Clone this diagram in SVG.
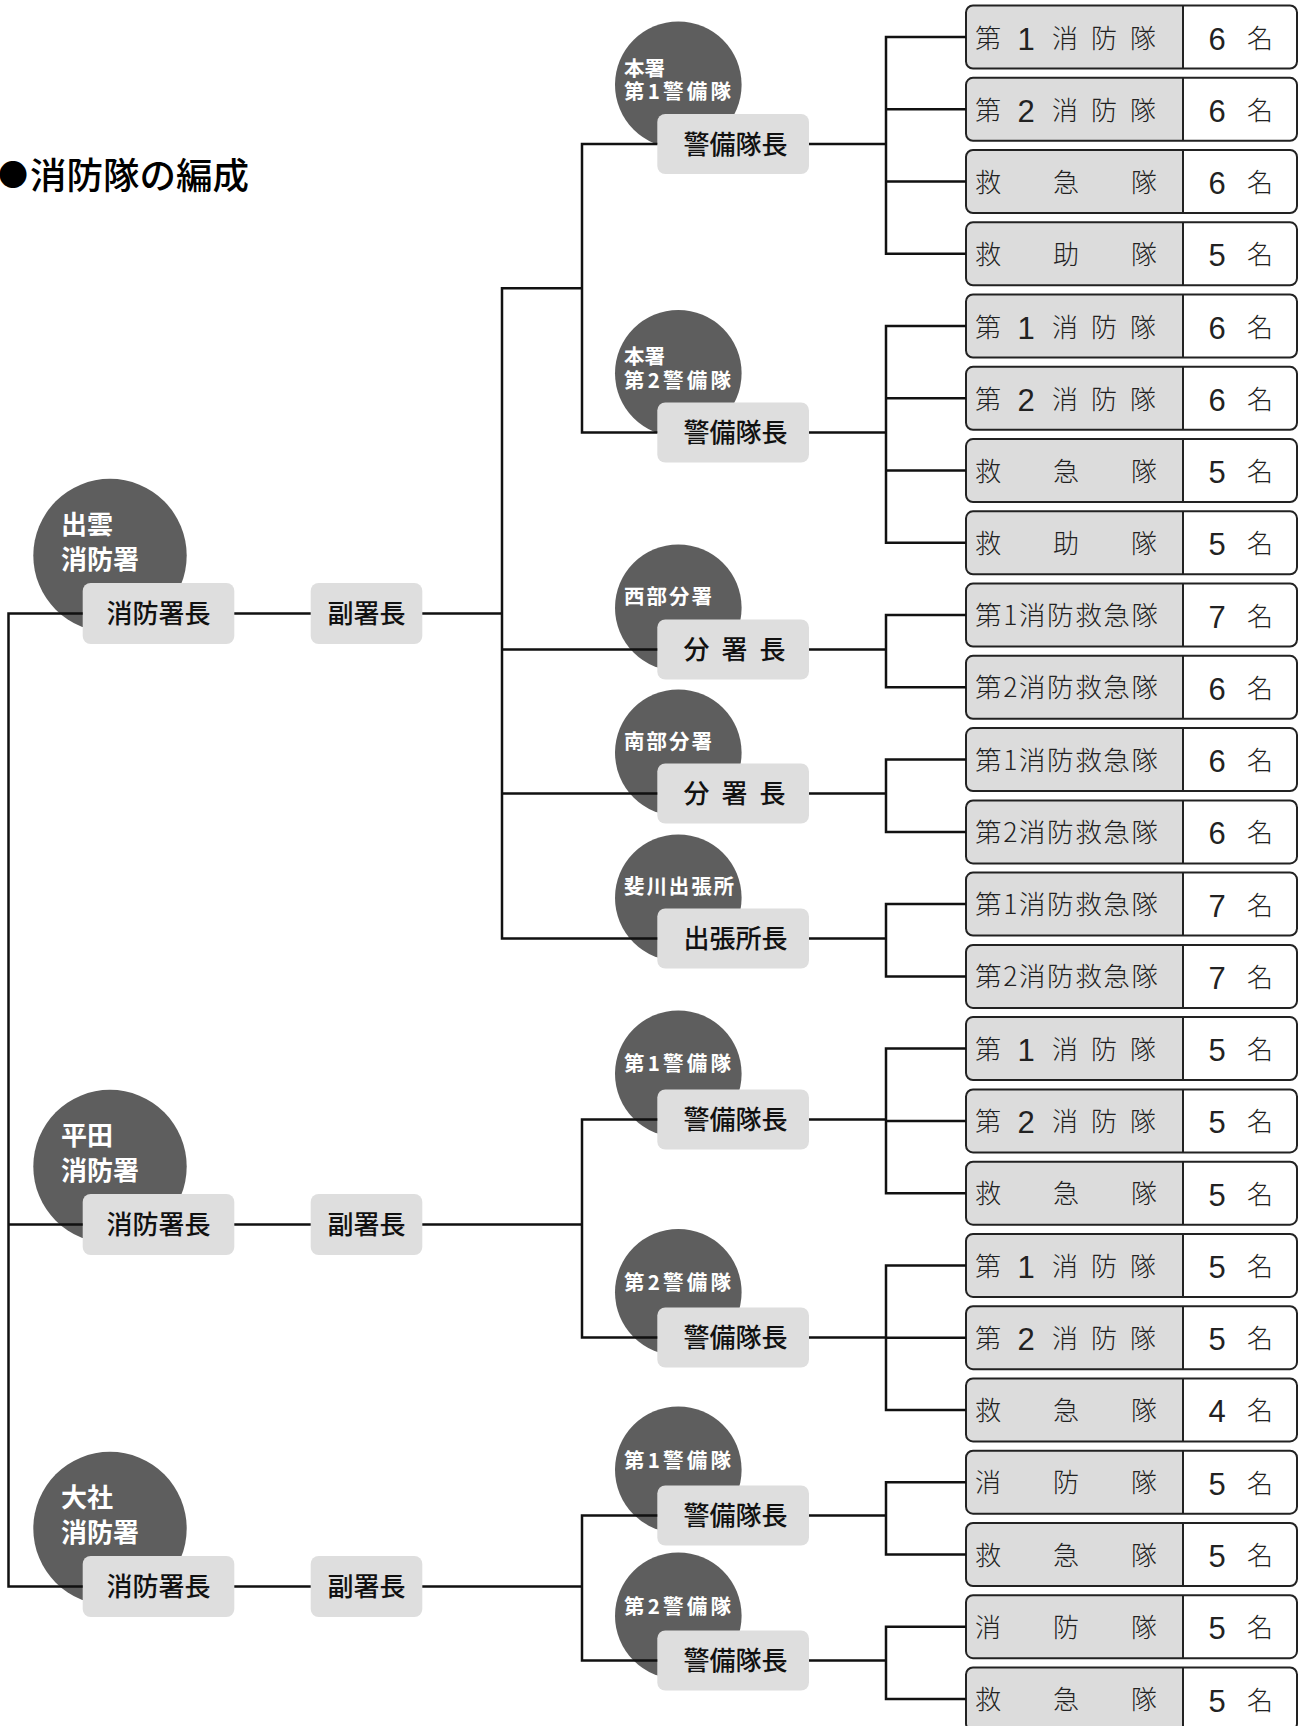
<svg xmlns="http://www.w3.org/2000/svg" xmlns:xlink="http://www.w3.org/1999/xlink" width="1304" height="1726" viewBox="0 0 1304 1726">
<style>
text { font-family: "Noto Sans CJK JP", "Noto Sans CJK SC", sans-serif; }
.ln { fill: none; stroke: #111; stroke-width: 2.5; stroke-linejoin: miter; }
.circ { fill: #5e5e5e; }
.bx { fill: #dedede; }
.wl { fill: #fff; font-weight: 700; font-size: 26px; dominant-baseline: central; }
.ws { fill: #fff; font-weight: 700; font-size: 20.5px; dominant-baseline: central; }
.tb { fill: #111; font-weight: 500; font-size: 26px; text-anchor: middle; dominant-baseline: central; }
.tr { fill: #222; font-weight: 300; font-size: 26px; text-anchor: middle; dominant-baseline: central; }
.dg { font-family: "Liberation Sans", Arial, sans-serif; font-size: 31px; font-weight: 400; baseline-shift: -3px; }
.tp { fill: #222; font-weight: 300; font-size: 26.5px; dominant-baseline: central; }
.title { fill: #000; font-weight: 500; font-size: 36.5px; dominant-baseline: central; }
.bul { font-size: 30px; }
</style>
<defs>
<g id="cell">
<rect x="0" y="0" width="331" height="63" rx="7" fill="#fff"/>
<path d="M217 0 H7 A7 7 0 0 0 0 7 V56 A7 7 0 0 0 7 63 H217 Z" fill="#dcdcdc"/>
<rect x="0" y="0" width="331" height="63" rx="7" fill="none" stroke="#222" stroke-width="2"/>
<line x1="217" y1="0" x2="217" y2="63" stroke="#222" stroke-width="2"/>
</g>
</defs>
<rect x="0" y="0" width="1304" height="1726" fill="#fff"/>

<g id="title"><text class="title" y="173"><tspan class="bul" x="-2">●</tspan><tspan x="30">消防隊の編成</tspan></text></g>

<!-- level 1 nodes -->
<g id="izumo">
<circle class="circ" cx="110" cy="555.5" r="76.7"/>
<text class="wl" x="61" y="522.5">出雲</text>
<text class="wl" x="61" y="557">消防署</text>
<rect class="bx" x="82.7" y="583" width="151.6" height="61" rx="8"/>
<text class="tb" x="158.5" y="611.5">消防署長</text>
</g>
<g id="izumo-sub"><rect class="bx" x="310.7" y="583" width="111.6" height="61" rx="8"/><text class="tb" x="366.5" y="611.5">副署長</text></g>

<g id="hirata">
<circle class="circ" cx="110" cy="1166.5" r="76.7"/>
<text class="wl" x="61" y="1133.5">平田</text>
<text class="wl" x="61" y="1168">消防署</text>
<rect class="bx" x="82.7" y="1194" width="151.6" height="61" rx="8"/>
<text class="tb" x="158.5" y="1222.5">消防署長</text>
</g>
<g id="hirata-sub"><rect class="bx" x="310.7" y="1194" width="111.6" height="61" rx="8"/><text class="tb" x="366.5" y="1222.5">副署長</text></g>

<g id="taisha">
<circle class="circ" cx="110" cy="1528.5" r="76.7"/>
<text class="wl" x="61" y="1495.5">大社</text>
<text class="wl" x="61" y="1530">消防署</text>
<rect class="bx" x="82.7" y="1556" width="151.6" height="61" rx="8"/>
<text class="tb" x="158.5" y="1584.5">消防署長</text>
</g>
<g id="taisha-sub"><rect class="bx" x="310.7" y="1556" width="111.6" height="61" rx="8"/><text class="tb" x="366.5" y="1584.5">副署長</text></g>

<!-- level 2 nodes -->
<g id="l2-1">
<circle class="circ" cx="678.3" cy="84.7" r="63.3"/>
<text class="ws" x="624" y="66.5">本署</text>
<text class="ws" x="624" y="90" textLength="107">第1警備隊</text>
<rect class="bx" x="657.3" y="114" width="151.7" height="60" rx="8"/>
<text class="tb" x="735.5" y="142">警備隊長</text>
</g>
<g id="l2-2">
<circle class="circ" cx="678.3" cy="373.2" r="63.3"/>
<text class="ws" x="624" y="355">本署</text>
<text class="ws" x="624" y="378.5" textLength="107">第2警備隊</text>
<rect class="bx" x="657.3" y="402.5" width="151.7" height="60" rx="8"/>
<text class="tb" x="735.5" y="430.5">警備隊長</text>
</g>
<g id="l2-3">
<circle class="circ" cx="678.3" cy="607.8" r="63.3"/>
<text class="ws" x="624" y="595" textLength="88">西部分署</text>
<rect class="bx" x="657.3" y="619.5" width="151.7" height="60" rx="8"/>
<text class="tb" x="696.5 734.5 772.5" y="647.5">分署長</text>
</g>
<g id="l2-4">
<circle class="circ" cx="678.3" cy="752.8" r="63.3"/>
<text class="ws" x="624" y="740" textLength="88">南部分署</text>
<rect class="bx" x="657.3" y="763.5" width="151.7" height="60" rx="8"/>
<text class="tb" x="696.5 734.5 772.5" y="791.5">分署長</text>
</g>
<g id="l2-5">
<circle class="circ" cx="678.3" cy="897.8" r="63.3"/>
<text class="ws" x="624" y="885" textLength="110">斐川出張所</text>
<rect class="bx" x="657.3" y="908.5" width="151.7" height="60" rx="8"/>
<text class="tb" x="735.5" y="936.5">出張所長</text>
</g>
<g id="l2-6">
<circle class="circ" cx="678.3" cy="1073.8" r="63.3"/>
<text class="ws" x="624" y="1062" textLength="107">第1警備隊</text>
<rect class="bx" x="657.3" y="1089.5" width="151.7" height="60" rx="8"/>
<text class="tb" x="735.5" y="1117.5">警備隊長</text>
</g>
<g id="l2-7">
<circle class="circ" cx="678.3" cy="1292.3" r="63.3"/>
<text class="ws" x="624" y="1281" textLength="107">第2警備隊</text>
<rect class="bx" x="657.3" y="1307.5" width="151.7" height="60" rx="8"/>
<text class="tb" x="735.5" y="1335.5">警備隊長</text>
</g>
<g id="l2-8">
<circle class="circ" cx="678.3" cy="1469.8" r="63.3"/>
<text class="ws" x="624" y="1459" textLength="107">第1警備隊</text>
<rect class="bx" x="657.3" y="1485.5" width="151.7" height="60" rx="8"/>
<text class="tb" x="735.5" y="1513.5">警備隊長</text>
</g>
<g id="l2-9">
<circle class="circ" cx="678.3" cy="1615.8" r="63.3"/>
<text class="ws" x="624" y="1605" textLength="107">第2警備隊</text>
<rect class="bx" x="657.3" y="1630.5" width="151.7" height="60" rx="8"/>
<text class="tb" x="735.5" y="1658.5">警備隊長</text>
</g>

<!-- unit rows -->
<g id="r0"><use xlink:href="#cell" href="#cell" x="966" y="5.5"/><text class="tr" y="35.5"><tspan x="988">第</tspan><tspan class="dg" x="1026">1</tspan><tspan x="1065 1104 1143">消防隊</tspan></text><text class="tr" y="35.5"><tspan class="dg" x="1217">6</tspan><tspan x="1260">名</tspan></text></g>
<g id="r1"><use xlink:href="#cell" href="#cell" x="966" y="77.8"/><text class="tr" y="107.8"><tspan x="988">第</tspan><tspan class="dg" x="1026">2</tspan><tspan x="1065 1104 1143">消防隊</tspan></text><text class="tr" y="107.8"><tspan class="dg" x="1217">6</tspan><tspan x="1260">名</tspan></text></g>
<g id="r2"><use xlink:href="#cell" href="#cell" x="966" y="150"/><text class="tr" x="988 1066 1144" y="180">救急隊</text><text class="tr" y="180"><tspan class="dg" x="1217">6</tspan><tspan x="1260">名</tspan></text></g>
<g id="r3"><use xlink:href="#cell" href="#cell" x="966" y="222.3"/><text class="tr" x="988 1066 1144" y="252.3">救助隊</text><text class="tr" y="252.3"><tspan class="dg" x="1217">5</tspan><tspan x="1260">名</tspan></text></g>
<g id="r4"><use xlink:href="#cell" href="#cell" x="966" y="294.5"/><text class="tr" y="324.5"><tspan x="988">第</tspan><tspan class="dg" x="1026">1</tspan><tspan x="1065 1104 1143">消防隊</tspan></text><text class="tr" y="324.5"><tspan class="dg" x="1217">6</tspan><tspan x="1260">名</tspan></text></g>
<g id="r5"><use xlink:href="#cell" href="#cell" x="966" y="366.8"/><text class="tr" y="396.8"><tspan x="988">第</tspan><tspan class="dg" x="1026">2</tspan><tspan x="1065 1104 1143">消防隊</tspan></text><text class="tr" y="396.8"><tspan class="dg" x="1217">6</tspan><tspan x="1260">名</tspan></text></g>
<g id="r6"><use xlink:href="#cell" href="#cell" x="966" y="439.1"/><text class="tr" x="988 1066 1144" y="469.1">救急隊</text><text class="tr" y="469.1"><tspan class="dg" x="1217">5</tspan><tspan x="1260">名</tspan></text></g>
<g id="r7"><use xlink:href="#cell" href="#cell" x="966" y="511.3"/><text class="tr" x="988 1066 1144" y="541.3">救助隊</text><text class="tr" y="541.3"><tspan class="dg" x="1217">5</tspan><tspan x="1260">名</tspan></text></g>
<g id="r8"><use xlink:href="#cell" href="#cell" x="966" y="583.6"/><text class="tp" x="975" y="613.6" textLength="183">第1消防救急隊</text><text class="tr" y="613.6"><tspan class="dg" x="1217">7</tspan><tspan x="1260">名</tspan></text></g>
<g id="r9"><use xlink:href="#cell" href="#cell" x="966" y="655.8"/><text class="tp" x="975" y="685.8" textLength="183">第2消防救急隊</text><text class="tr" y="685.8"><tspan class="dg" x="1217">6</tspan><tspan x="1260">名</tspan></text></g>
<g id="r10"><use xlink:href="#cell" href="#cell" x="966" y="728.1"/><text class="tp" x="975" y="758.1" textLength="183">第1消防救急隊</text><text class="tr" y="758.1"><tspan class="dg" x="1217">6</tspan><tspan x="1260">名</tspan></text></g>
<g id="r11"><use xlink:href="#cell" href="#cell" x="966" y="800.4"/><text class="tp" x="975" y="830.4" textLength="183">第2消防救急隊</text><text class="tr" y="830.4"><tspan class="dg" x="1217">6</tspan><tspan x="1260">名</tspan></text></g>
<g id="r12"><use xlink:href="#cell" href="#cell" x="966" y="872.6"/><text class="tp" x="975" y="902.6" textLength="183">第1消防救急隊</text><text class="tr" y="902.6"><tspan class="dg" x="1217">7</tspan><tspan x="1260">名</tspan></text></g>
<g id="r13"><use xlink:href="#cell" href="#cell" x="966" y="944.9"/><text class="tp" x="975" y="974.9" textLength="183">第2消防救急隊</text><text class="tr" y="974.9"><tspan class="dg" x="1217">7</tspan><tspan x="1260">名</tspan></text></g>
<g id="r14"><use xlink:href="#cell" href="#cell" x="966" y="1017.1"/><text class="tr" y="1047.1"><tspan x="988">第</tspan><tspan class="dg" x="1026">1</tspan><tspan x="1065 1104 1143">消防隊</tspan></text><text class="tr" y="1047.1"><tspan class="dg" x="1217">5</tspan><tspan x="1260">名</tspan></text></g>
<g id="r15"><use xlink:href="#cell" href="#cell" x="966" y="1089.4"/><text class="tr" y="1119.4"><tspan x="988">第</tspan><tspan class="dg" x="1026">2</tspan><tspan x="1065 1104 1143">消防隊</tspan></text><text class="tr" y="1119.4"><tspan class="dg" x="1217">5</tspan><tspan x="1260">名</tspan></text></g>
<g id="r16"><use xlink:href="#cell" href="#cell" x="966" y="1161.7"/><text class="tr" x="988 1066 1144" y="1191.7">救急隊</text><text class="tr" y="1191.7"><tspan class="dg" x="1217">5</tspan><tspan x="1260">名</tspan></text></g>
<g id="r17"><use xlink:href="#cell" href="#cell" x="966" y="1233.9"/><text class="tr" y="1263.9"><tspan x="988">第</tspan><tspan class="dg" x="1026">1</tspan><tspan x="1065 1104 1143">消防隊</tspan></text><text class="tr" y="1263.9"><tspan class="dg" x="1217">5</tspan><tspan x="1260">名</tspan></text></g>
<g id="r18"><use xlink:href="#cell" href="#cell" x="966" y="1306.2"/><text class="tr" y="1336.2"><tspan x="988">第</tspan><tspan class="dg" x="1026">2</tspan><tspan x="1065 1104 1143">消防隊</tspan></text><text class="tr" y="1336.2"><tspan class="dg" x="1217">5</tspan><tspan x="1260">名</tspan></text></g>
<g id="r19"><use xlink:href="#cell" href="#cell" x="966" y="1378.4"/><text class="tr" x="988 1066 1144" y="1408.4">救急隊</text><text class="tr" y="1408.4"><tspan class="dg" x="1217">4</tspan><tspan x="1260">名</tspan></text></g>
<g id="r20"><use xlink:href="#cell" href="#cell" x="966" y="1450.7"/><text class="tr" x="988 1066 1144" y="1480.7">消防隊</text><text class="tr" y="1480.7"><tspan class="dg" x="1217">5</tspan><tspan x="1260">名</tspan></text></g>
<g id="r21"><use xlink:href="#cell" href="#cell" x="966" y="1523"/><text class="tr" x="988 1066 1144" y="1553">救急隊</text><text class="tr" y="1553"><tspan class="dg" x="1217">5</tspan><tspan x="1260">名</tspan></text></g>
<g id="r22"><use xlink:href="#cell" href="#cell" x="966" y="1595.2"/><text class="tr" x="988 1066 1144" y="1625.2">消防隊</text><text class="tr" y="1625.2"><tspan class="dg" x="1217">5</tspan><tspan x="1260">名</tspan></text></g>
<g id="r23"><use xlink:href="#cell" href="#cell" x="966" y="1667.5"/><text class="tr" x="988 1066 1144" y="1697.5">救急隊</text><text class="tr" y="1697.5"><tspan class="dg" x="1217">5</tspan><tspan x="1260">名</tspan></text></g>

<g id="connectors" class="ln">
<path d="M82.7 613.5 H8.5 V1586.5 H82.7 M8.5 1224.5 H82.7"/>
<path d="M234.3 613.5 H310.7 M234.3 1224.5 H310.7 M234.3 1586.5 H310.7"/>
<path d="M422.3 613.5 H502 M657.3 144 H582 V432.5 H657.3 M582 288.25 H502 V938.5 H657.3 M502 649.5 H657.3 M502 793.5 H657.3"/>
<path d="M422.3 1224.5 H582 M657.3 1119.5 H582 V1337.5 H657.3"/>
<path d="M422.3 1586.5 H582 M657.3 1515.5 H582 V1660.5 H657.3"/>
<path d="M966 37 H886 V253.8 H966 M886 109.3 H966 M886 181.5 H966 M809 144 H886"/>
<path d="M966 326 H886 V542.8 H966 M886 398.3 H966 M886 470.6 H966 M809 432.5 H886"/>
<path d="M966 615.1 H886 V687.3 H966 M809 649.5 H886"/>
<path d="M966 759.6 H886 V831.9 H966 M809 793.5 H886"/>
<path d="M966 904.1 H886 V976.4 H966 M809 938.5 H886"/>
<path d="M966 1048.6 H886 V1193.2 H966 M886 1120.9 H966 M809 1119.5 H886"/>
<path d="M966 1265.4 H886 V1409.9 H966 M886 1337.7 H966 M809 1337.5 H886"/>
<path d="M966 1482.2 H886 V1554.5 H966 M809 1515.5 H886"/>
<path d="M966 1626.7 H886 V1699 H966 M809 1660.5 H886"/>
</g>
</svg>
